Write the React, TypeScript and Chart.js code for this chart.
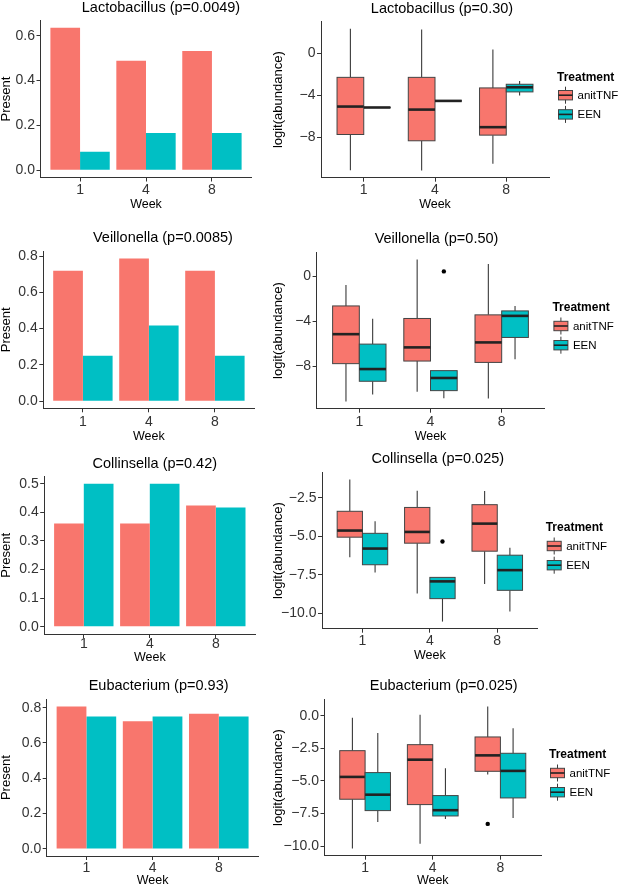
import React, { useEffect, useRef } from 'react';
import { Chart, registerables } from 'chart.js';

Chart.register(...registerables);

// ---------------- data ----------------
const weeks = ['1', '4', '8'];
const treatments = ['anitTNF', 'EEN'];

const presentTitles = ['Lactobacillus (p=0.0049)', 'Veillonella (p=0.0085)', 'Collinsella (p=0.42)', 'Eubacterium (p=0.93)'];
const abundanceTitles = ['Lactobacillus (p=0.30)', 'Veillonella (p=0.50)', 'Collinsella (p=0.025)', 'Eubacterium (p=0.025)'];

// proportion present (bar charts)
const lactoPresentAnti = [0.636, 0.488, 0.532];
const lactoPresentEEN = [0.083, 0.167, 0.167];
const veilPresentAnti = [0.719, 0.787, 0.719];
const veilPresentEEN = [0.25, 0.417, 0.25];
const collPresentAnti = [0.361, 0.361, 0.424];
const collPresentEEN = [0.5, 0.5, 0.417];
const eubPresentAnti = [0.807, 0.723, 0.766];
const eubPresentEEN = [0.75, 0.75, 0.75];

// boxplot stats per week: [lower whisker, Q1, median, Q3, upper whisker]
const lactoBoxAnti = [[-11.17, -7.75, -5.08, -2.29, 2.35], [-11.2, -8.35, -5.37, -2.29, 2.29], [-10.54, -7.81, -7.05, -3.3, 0.38]];
const lactoBoxEEN = [[-5.17, -5.17, -5.17, -5.17, -5.17], [-4.54, -4.54, -4.54, -4.54, -4.54], [-4.03, -3.68, -3.24, -2.95, -2.63]];
const veilBoxAnti = [[-11.12, -7.76, -5.15, -2.65, -0.79], [-10.24, -7.53, -6.32, -3.76, 1.47], [-10.85, -7.65, -5.88, -3.44, 1.06]];
const veilBoxEEN = [[-10.5, -9.32, -8.24, -6.03, -3.79], [-10.82, -10.15, -9.03, -8.38, -8.38], [-7.38, -5.44, -3.53, -3.09, -2.65]];
const collBoxAnti = [[-6.36, -5.06, -4.63, -3.38, -1.31], [-8.71, -5.45, -4.72, -3.13, -2.05], [-8.1, -5.97, -4.18, -2.95, -2.07]];
const collBoxEEN = [[-7.35, -6.85, -5.8, -4.81, -4.03], [-10.54, -9.05, -7.93, -7.67, -7.67], [-9.89, -8.51, -7.2, -6.23, -5.75]];
const eubBoxAnti = [[-10.18, -6.4, -4.69, -2.68, -0.15], [-9.8, -6.81, -3.37, -2.22, 0.08], [-4.5, -4.26, -3.04, -1.63, 0.71]];
const eubBoxEEN = [[-8.14, -7.27, -6.05, -4.36, -1.33], [-7.91, -7.68, -7.24, -6.12, -4.03], [-7.83, -6.3, -4.23, -2.88, -0.97]];

// outliers per week
const lactoOutAnti = [[], [], []];
const lactoOutEEN = [[], [], []];
const veilOutAnti = [[], [], []];
const veilOutEEN = [[], [0.41], []];
const collOutAnti = [[], [], []];
const collOutEEN = [[], [-5.34], []];
const eubOutAnti = [[], [], [-8.29]];
const eubOutEEN = [[], [], []];

// y tick values
const presentTicks = [[0, 0.2, 0.4, 0.6], [0, 0.2, 0.4, 0.6, 0.8], [0, 0.1, 0.2, 0.3, 0.4, 0.5], [0, 0.2, 0.4, 0.6, 0.8]];
const abundanceTicks = [[0, -4, -8], [0, -4, -8], [-2.5, -5, -7.5, -10], [0, -2.5, -5, -7.5, -10]];
const abundanceDecimals = [0, 0, 1, 1];

// ---------------- layout / style ----------------
const FONT = '"Liberation Sans", Arial, Helvetica, sans-serif';
const COLORS = ['#F8766D', '#00BFC4'];
const AXIS = '#333333';
const TICK_TEXT = '#333333';
const TICK_SIZE = 14;

const layoutLeft = [
  { l: 40.5, t: 20.5, r: 251.5, b: 177.5, labelY: 190, weekY: 205, titleDx: 15 },
  { l: 43.3, t: 251.3, r: 254.5, b: 408.3, labelY: 422.3, weekY: 436.5, titleDx: 14 },
  { l: 44.2, t: 476.5, r: 255.4, b: 634, labelY: 644.5, weekY: 657.5, titleDx: 5 },
  { l: 46.7, t: 699.3, r: 258.5, b: 856, labelY: 868.3, weekY: 880.7, titleDx: 6 },
];
const layoutRight = [
  { l: 321, t: 21.7, r: 549, b: 177.7, labelY: 190, weekY: 205, titleDx: 7 },
  { l: 316.6, t: 252.3, r: 544.4, b: 408.7, labelY: 422.3, weekY: 436.5, titleDx: 6 },
  { l: 322, t: 472.3, r: 537.7, b: 628.7, labelY: 641, weekY: 655.7, titleDx: 8 },
  { l: 324.5, t: 699.3, r: 541, b: 855.7, labelY: 868.3, weekY: 880.7, titleDx: 11 },
];

type Rect = { l: number; t: number; r: number; b: number; labelY: number; weekY: number; titleDx: number };
type PanelCfg = {
  kind: 'bar' | 'box';
  title: string;
  lay: Rect;
  canvasX: number;
  canvasW: number;
  yLabel: string;
  yTicks: number[];
  yDecimals: number;
  bars?: number[][];
  boxes?: number[][][];
  outliers?: number[][][];
};

const presentBars = [
  [lactoPresentAnti, lactoPresentEEN],
  [veilPresentAnti, veilPresentEEN],
  [collPresentAnti, collPresentEEN],
  [eubPresentAnti, eubPresentEEN],
];
const abundanceBoxes = [
  [lactoBoxAnti, lactoBoxEEN],
  [veilBoxAnti, veilBoxEEN],
  [collBoxAnti, collBoxEEN],
  [eubBoxAnti, eubBoxEEN],
];
const abundanceOutliers = [
  [lactoOutAnti, lactoOutEEN],
  [veilOutAnti, veilOutEEN],
  [collOutAnti, collOutEEN],
  [eubOutAnti, eubOutEEN],
];

const panels: PanelCfg[] = [];
for (let i = 0; i < 4; i++) {
  panels.push({
    kind: 'bar', title: presentTitles[i], lay: layoutLeft[i], canvasX: 0, canvasW: 264,
    yLabel: 'Present', yTicks: presentTicks[i], yDecimals: 1, bars: presentBars[i],
  });
  panels.push({
    kind: 'box', title: abundanceTitles[i], lay: layoutRight[i], canvasX: 272, canvasW: 350,
    yLabel: 'logit(abundance)', yTicks: abundanceTicks[i], yDecimals: abundanceDecimals[i],
    boxes: abundanceBoxes[i], outliers: abundanceOutliers[i],
  });
}

const DODGE = 0.1875; // half of box width in category units

function geom(p: PanelCfg) {
  const cy = Math.max(0, Math.floor(p.lay.t - 26));
  const bottomEdge = p.lay.weekY + 6.25;
  const ch = Math.ceil(bottomEdge) - cy;
  return { cx: p.canvasX, cy, cw: p.canvasW, ch, bottomEdge };
}

function yRange(p: PanelCfg): [number, number] {
  if (p.kind === 'bar') {
    const m = Math.max(...p.bars!.flat());
    return [-0.05 * m, 1.05 * m];
  }
  const vals: number[] = [];
  p.boxes!.forEach((g) => g.forEach((s) => vals.push(s[0], s[4])));
  p.outliers!.forEach((g) => g.forEach((o) => vals.push(...o)));
  const lo = Math.min(...vals);
  const hi = Math.max(...vals);
  const e = (hi - lo) * 0.05;
  return [lo - e, hi + e];
}

function fmt(v: number, d: number) {
  const s = Math.abs(v).toFixed(d);
  return v < -1e-9 ? '\u2212' + s : s;
}

function makeConfig(p: PanelCfg): any {
  const g = geom(p);
  const L = p.lay;
  const [ymin, ymax] = yRange(p);
  const yAxisW = L.l - g.cx;
  const xAxisH = g.bottomEdge - L.b;
  const padTop = L.t - g.cy;
  const padRight = g.cx + g.cw - L.r;
  const padBottom = g.cy + g.ch - g.bottomEdge;
  const tickPad = L.labelY - L.b - 4 - TICK_SIZE / 2;

  const titlePlugin = {
    id: 'panelTitle',
    afterDraw(chart: any) {
      const { ctx, chartArea: a } = chart;
      ctx.save();
      ctx.font = `14.5px ${FONT}`;
      ctx.fillStyle = '#000';
      ctx.textAlign = 'center';
      ctx.textBaseline = 'alphabetic';
      ctx.fillText(p.title, (a.left + a.right) / 2 + L.titleDx, a.top - 9);
      ctx.restore();
    },
  };

  const boxPlugin = {
    id: 'boxplots',
    beforeDatasetsDraw(chart: any) {
      if (p.kind !== 'box') return;
      const { ctx } = chart;
      const xs = chart.scales.x;
      const ys = chart.scales.y;
      ctx.save();
      p.boxes!.forEach((grp, gi) => {
        const off = gi === 0 ? -DODGE : DODGE;
        grp.forEach((s, wi) => {
          const c = wi + 1 + off;
          const x0 = xs.getPixelForValue(c - DODGE);
          const x1 = xs.getPixelForValue(c + DODGE);
          const xc = xs.getPixelForValue(c);
          const [wl, q1, md, q3, wh] = s.map((v) => ys.getPixelForValue(v));
          ctx.strokeStyle = '#3a3a3a';
          ctx.lineWidth = 1.1;
          ctx.beginPath();
          ctx.moveTo(xc, wl); ctx.lineTo(xc, q1);
          ctx.moveTo(xc, q3); ctx.lineTo(xc, wh);
          ctx.stroke();
          ctx.fillStyle = COLORS[gi];
          ctx.fillRect(x0, q3, x1 - x0, q1 - q3);
          ctx.strokeStyle = '#444';
          ctx.lineWidth = 1;
          ctx.strokeRect(x0, q3, x1 - x0, q1 - q3);
          ctx.strokeStyle = '#222';
          ctx.lineWidth = 2.6;
          ctx.beginPath();
          ctx.moveTo(x0, md); ctx.lineTo(x1, md);
          ctx.stroke();
        });
      });
      ctx.restore();
    },
  };

  const legendPlugin = {
    id: 'boxLegend',
    afterDraw(chart: any) {
      if (p.kind !== 'box') return;
      const { ctx, chartArea: a } = chart;
      const mid = (a.top + a.bottom) / 2;
      ctx.save();
      ctx.font = `bold 12px ${FONT}`;
      ctx.fillStyle = '#000';
      ctx.textAlign = 'left';
      ctx.textBaseline = 'middle';
      ctx.fillText('Treatment', a.right + 8, mid - 22.5);
      treatments.forEach((t, gi) => {
        const cy = mid - 4.5 + gi * 19.2;
        const x0 = a.right + 9.5;
        const w = 14;
        const xc = x0 + w / 2;
        ctx.strokeStyle = '#3a3a3a';
        ctx.lineWidth = 1;
        ctx.beginPath();
        ctx.moveTo(xc, cy - 8.5); ctx.lineTo(xc, cy + 8.5);
        ctx.stroke();
        ctx.fillStyle = COLORS[gi];
        ctx.fillRect(x0, cy - 4.7, w, 9.4);
        ctx.strokeStyle = '#444';
        ctx.strokeRect(x0, cy - 4.7, w, 9.4);
        ctx.strokeStyle = '#222';
        ctx.lineWidth = 1.6;
        ctx.beginPath();
        ctx.moveTo(x0, cy); ctx.lineTo(x0 + w, cy);
        ctx.stroke();
        ctx.fillStyle = '#000';
        ctx.font = `11.5px ${FONT}`;
        ctx.fillText(t, a.right + 28.5, cy + 0.5);
      });
      ctx.restore();
    },
  };

  const xScale = {
    type: 'linear',
    min: 0.4,
    max: 3.6,
    offset: false,
    afterBuildTicks: (s: any) => { s.ticks = weeks.map((_, i) => ({ value: i + 1 })); },
    afterFit: (s: any) => { s.height = xAxisH; },
    ticks: {
      callback: (_v: any, i: number) => weeks[i],
      font: { family: FONT, size: TICK_SIZE, lineHeight: 1 },
      color: TICK_TEXT,
      padding: tickPad,
      maxRotation: 0,
      autoSkip: false,
    },
    grid: { display: true, drawOnChartArea: false, drawTicks: true, tickLength: 4, color: AXIS, lineWidth: 1, offset: false },
    border: { display: true, color: AXIS, width: 1 },
    title: { display: true, text: 'Week', font: { family: FONT, size: 12.5, lineHeight: 1 }, color: '#000', padding: 0 },
  };
  const yScale = {
    type: 'linear',
    min: ymin,
    max: ymax,
    afterBuildTicks: (s: any) => { s.ticks = p.yTicks.map((v) => ({ value: v })); },
    afterFit: (s: any) => { s.width = yAxisW; },
    ticks: {
      callback: (v: any) => fmt(Number(v), p.yDecimals),
      font: { family: FONT, size: TICK_SIZE, lineHeight: 1 },
      color: TICK_TEXT,
      padding: 1.5,
      autoSkip: false,
    },
    grid: { display: true, drawOnChartArea: false, drawTicks: true, tickLength: 4, color: AXIS, lineWidth: 1 },
    border: { display: true, color: AXIS, width: 1 },
    title: { display: true, text: p.yLabel, font: { family: FONT, size: 13, lineHeight: 1 }, color: '#000', padding: 0 },
  };

  const common = {
    responsive: false,
    animation: false,
    events: [],
    layout: { padding: { left: 0, top: padTop, right: padRight, bottom: padBottom } },
    plugins: { legend: { display: false }, tooltip: { enabled: false }, title: { display: false } },
    scales: { x: xScale, y: yScale },
  };

  if (p.kind === 'bar') {
    return {
      type: 'bar',
      data: {
        datasets: treatments.map((t, gi) => ({
          label: t,
          data: p.bars![gi].map((v, i) => ({ x: i + 1, y: v })),
          backgroundColor: COLORS[gi],
          borderWidth: 0,
          categoryPercentage: 0.9,
          barPercentage: 1,
        })),
      },
      options: common,
      plugins: [titlePlugin],
    };
  }
  return {
    type: 'scatter',
    data: {
      datasets: treatments.map((t, gi) => ({
        label: t,
        data: p.outliers![gi].flatMap((arr, i) => arr.map((v) => ({ x: i + 1 + (gi === 0 ? -DODGE : DODGE), y: v }))),
        pointRadius: 2.2,
        pointBackgroundColor: '#000',
        pointBorderWidth: 0,
        showLine: false,
      })),
    },
    options: common,
    plugins: [boxPlugin, titlePlugin, legendPlugin],
  };
}

function Panel({ p }: { p: PanelCfg }) {
  const ref = useRef<HTMLCanvasElement | null>(null);
  const g = geom(p);
  useEffect(() => {
    const c = ref.current;
    if (!c) return;
    c.width = g.cw;
    c.height = g.ch;
    const chart = new Chart(c, makeConfig(p));
    return () => chart.destroy();
  }, []);
  return (
    <canvas
      ref={ref}
      width={g.cw}
      height={g.ch}
      style={{ position: 'absolute', left: g.cx, top: g.cy, width: g.cw, height: g.ch }}
    />
  );
}

export default function App() {
  return (
    <div style={{ position: 'absolute', left: 0, top: 0, width: 622, height: 886, overflow: 'hidden', background: '#ffffff' }}>
      {panels.map((p, i) => (
        <Panel key={i} p={p} />
      ))}
    </div>
  );
}
